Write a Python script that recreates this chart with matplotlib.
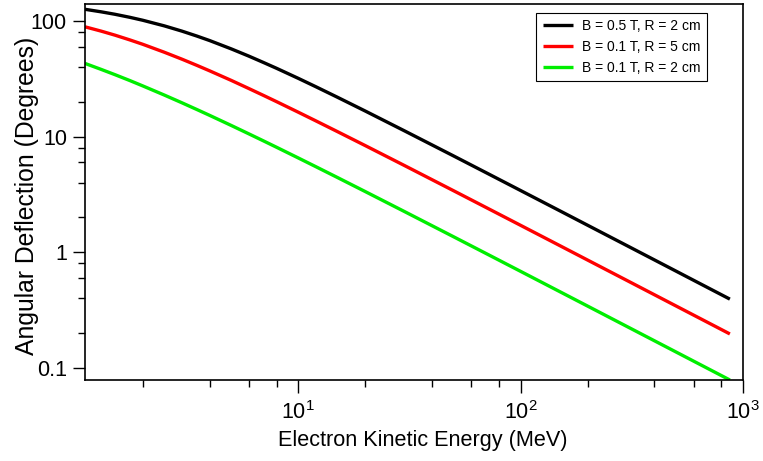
import matplotlib
matplotlib.use('Agg')
import matplotlib.pyplot as plt
from matplotlib.ticker import FixedLocator, FixedFormatter, NullFormatter

plt.rcParams['font.family'] = ['Liberation Sans', 'DejaVu Sans']
plt.rcParams['mathtext.fontset'] = 'custom'
plt.rcParams['mathtext.rm'] = 'Liberation Sans'
plt.rcParams['mathtext.default'] = 'regular'

# energies (MeV)
energy = [1.1, 1.3, 1.5, 1.75, 2, 2.5, 3, 3.5, 4, 5, 6, 7, 8, 10, 12, 15, 20, 30,
          50, 70, 100, 150, 200, 300, 500, 700, 873]

# angular deflection (degrees)
black_05T_2cm = [126.0, 119.8, 114.1, 107.4, 101.3, 90.6, 81.6, 74.0, 67.6, 57.3, 49.6,
                 43.6, 38.9, 31.9, 26.99, 21.9, 16.65, 11.23, 6.80, 4.873, 3.419,
                 2.284, 1.714, 1.144, 0.687, 0.4907, 0.3936]
red_01T_5cm = [88.9, 81.6, 75.3, 68.5, 62.8, 53.6, 46.7, 41.3, 37.0, 30.6, 26.02,
               22.64, 20.03, 16.26, 13.68, 11.05, 8.368, 5.630, 3.402, 2.437, 1.710,
               1.142, 0.857, 0.572, 0.3434, 0.2454, 0.1968]
green_01T_2cm = [42.9, 38.1, 34.3, 30.5, 27.43, 22.86, 19.60, 17.15, 15.25, 12.48, 10.56,
                 9.156, 8.08, 6.542, 5.496, 4.433, 3.352, 2.253, 1.361, 0.9751, 0.6841,
                 0.4568, 0.3429, 0.2288, 0.1374, 0.09815, 0.0787]

labels = ['B = 0.5 T, R = 2 cm', 'B = 0.1 T, R = 5 cm', 'B = 0.1 T, R = 2 cm']
colors = ['black', '#ff0000', '#00ee00']

x_major = [10, 100, 1000]
x_major_labels = ['$10^{1}$', '$10^{2}$', '$10^{3}$']
x_minor = [2, 4, 6, 8, 20, 40, 60, 80, 200, 400, 600, 800]
y_major = [0.1, 1, 10, 100]
y_major_labels = ['0.1', '1', '10', '100']
y_minor = [0.2, 0.4, 0.6, 0.8, 2, 4, 6, 8, 20, 40, 60, 80]

fig = plt.figure(figsize=(7.63, 4.61), dpi=100)
ax = fig.add_axes([85 / 763, 1 - 380 / 461, (743 - 85) / 763, (380 - 4) / 461])

for ys, c, lab in zip([black_05T_2cm, red_01T_5cm, green_01T_2cm], colors, labels):
    ax.plot(energy, ys, color=c, lw=2.4, label=lab, solid_capstyle='butt')

ax.set_xscale('log')
ax.set_yscale('log')
ax.set_xlim(1.1, 1000)
ax.set_ylim(0.0787, 140)

ax.xaxis.set_major_locator(FixedLocator(x_major))
ax.xaxis.set_major_formatter(FixedFormatter(x_major_labels))
ax.xaxis.set_minor_locator(FixedLocator(x_minor))
ax.xaxis.set_minor_formatter(NullFormatter())
ax.yaxis.set_major_locator(FixedLocator(y_major))
ax.yaxis.set_major_formatter(FixedFormatter(y_major_labels))
ax.yaxis.set_minor_locator(FixedLocator(y_minor))
ax.yaxis.set_minor_formatter(NullFormatter())

ax.tick_params(which='major', direction='out', length=9, width=1, pad=4)
ax.tick_params(which='minor', direction='out', length=5, width=1)
ax.tick_params(axis='x', which='major', labelsize=15.5, pad=6)
ax.tick_params(axis='y', which='major', labelsize=15.5)
for s in ax.spines.values():
    s.set_linewidth(1.2)

ax.set_xlabel('Electron Kinetic Energy (MeV)', fontsize=15.6)
ax.xaxis.set_label_coords(0.514, -0.134)
ax.set_ylabel('Angular Deflection (Degrees)', fontsize=17.8)
ax.yaxis.set_label_coords(-0.07, 0.49)

leg = ax.legend(loc='upper right', bbox_to_anchor=(0.9453, 0.976), borderaxespad=0,
                fontsize=10, frameon=True, fancybox=False, edgecolor='black', framealpha=1,
                handlelength=2.2, handletextpad=0.65, borderpad=0.45, labelspacing=0.5)
leg.get_frame().set_linewidth(0.8)

fig.savefig('out.png', dpi=100)
